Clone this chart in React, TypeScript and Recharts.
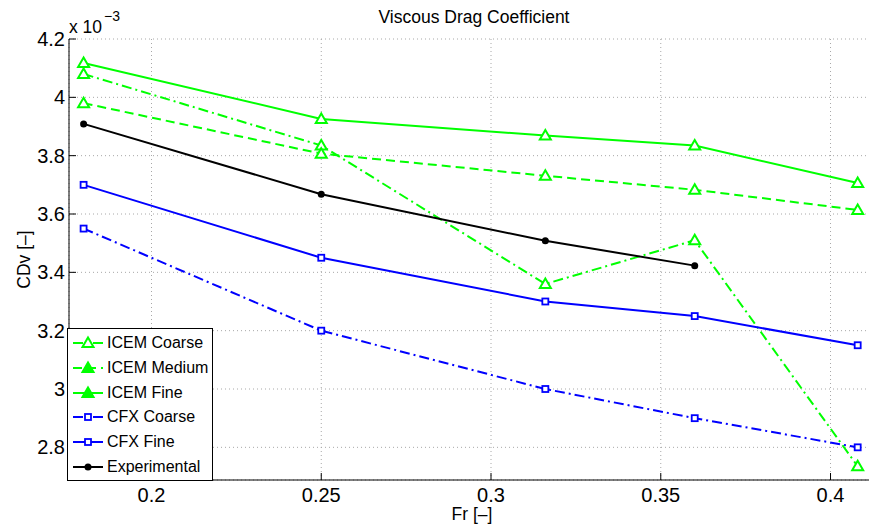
import React from "react";
import { LineChart, Line, XAxis, YAxis, CartesianGrid, Legend } from "recharts";

// Froude numbers and CDv values (x 10^-3)
const froude = [0.18, 0.25, 0.316, 0.36, 0.408];
const icemCoarse = [4.08, 3.835, 3.36, 3.51, 2.735];
const icemMedium = [3.98, 3.807, 3.731, 3.683, 3.614];
const icemFine = [4.118, 3.926, 3.869, 3.835, 3.706];
const cfxCoarse = [3.55, 3.2, 3.0, 2.9, 2.8];
const cfxFine = [3.7, 3.45, 3.3, 3.25, 3.15];
const experimental = [3.909, 3.668, 3.508, 3.423];

const xTicks = [0.2, 0.25, 0.3, 0.35, 0.4];
const yTicks = [2.8, 3, 3.2, 3.4, 3.6, 3.8, 4, 4.2];

const rows = froude.map((fr, i) => ({
  fr,
  icemCoarse: icemCoarse[i],
  icemMedium: icemMedium[i],
  icemFine: icemFine[i],
  cfxCoarse: cfxCoarse[i],
  cfxFine: cfxFine[i],
  experimental: experimental[i] ?? null,
}));

const GREEN = "#00ff00";
const BLUE = "#0000ff";
const FONT = "'Liberation Sans', Arial, sans-serif";

const series = [
  { key: "icemCoarse", name: "ICEM Coarse", color: GREEN, dash: "10 4 2 4", marker: "tri", legendFill: false },
  { key: "icemMedium", name: "ICEM Medium", color: GREEN, dash: "9 5", marker: "tri", legendFill: true },
  { key: "icemFine", name: "ICEM Fine", color: GREEN, dash: undefined, marker: "tri", legendFill: true },
  { key: "cfxCoarse", name: "CFX Coarse", color: BLUE, dash: "10 4 2 4", marker: "square", legendFill: false },
  { key: "cfxFine", name: "CFX Fine", color: BLUE, dash: undefined, marker: "square", legendFill: false },
  { key: "experimental", name: "Experimental", color: "#000", dash: undefined, marker: "dot", legendFill: true },
];

function Marker({ kind, cx, cy, color, filled }: any) {
  if (cx == null || cy == null || Number.isNaN(cy)) return null;
  if (kind === "tri") {
    return (
      <polygon
        points={`${cx},${cy - 5.5} ${cx - 5.5},${cy + 4} ${cx + 5.5},${cy + 4}`}
        fill={filled ? color : "#fff"}
        stroke={color}
        strokeWidth={2}
      />
    );
  }
  if (kind === "square") {
    return <rect x={cx - 3} y={cy - 3} width={6} height={6} fill="#fff" stroke={color} strokeWidth={1.8} />;
  }
  return <circle cx={cx} cy={cy} r={3.5} fill={color} />;
}

const YTick = (p: any) => (
  <g>
    <line x1={p.x} x2={p.x + 7} y1={p.y} y2={p.y} stroke="#000" />
    <text x={p.x - 4} y={p.y + 7} textAnchor="end" fontSize={20} fontFamily={FONT} fill="#000">
      {p.payload.value}
    </text>
  </g>
);

const XTick = (p: any) => (
  <g>
    <line x1={p.x} x2={p.x} y1={p.y - 7} y2={p.y} stroke="#000" />
    <text x={p.x} y={p.y + 22} textAnchor="middle" fontSize={20} fontFamily={FONT} fill="#000">
      {p.payload.value}
    </text>
  </g>
);

const LegendBox = () => (
  <div
    style={{
      border: "1px solid #000",
      background: "#fff",
      width: 146,
      height: 153,
      boxSizing: "border-box",
      paddingTop: 2,
      fontFamily: FONT,
      fontSize: 16,
      color: "#000",
    }}
  >
    {series.map((s) => (
      <div key={s.key} style={{ display: "flex", alignItems: "center", height: 24.7 }}>
        <svg width={38} height={20} style={{ display: "block" }}>
          <line x1={5} x2={35} y1={10} y2={10} stroke={s.color} strokeWidth={2} strokeDasharray={s.dash} />
          <Marker kind={s.marker} cx={20} cy={10} color={s.color} filled={s.legendFill} />
        </svg>
        <span style={{ marginLeft: 1, whiteSpace: "nowrap" }}>{s.name}</span>
      </div>
    ))}
  </div>
);

export default function App() {
  return (
    <div style={{ position: "fixed", left: 0, top: 0, width: 869, height: 531, overflow: "hidden", background: "#fff" }}>
      <LineChart width={876} height={531} data={rows} margin={{ top: 39, right: 1, bottom: 0, left: 0 }}>
        <CartesianGrid stroke="#a8a8a8" strokeDasharray="1 3" />
        <XAxis
          dataKey="fr"
          type="number"
          domain={[0.1757, 0.4131]}
          ticks={xTicks}
          interval={0}
          allowDataOverflow
          height={51}
          tickSize={0}
          tickMargin={0}
          tick={XTick}
          axisLine={{ stroke: "#000" }}
          label={{
            value: "Fr [–]",
            content: (p: any) => (
              <text
                x={p.viewBox.x + p.viewBox.width / 2}
                y={p.viewBox.y + 40}
                textAnchor="middle"
                fontSize={17.5}
                fontFamily={FONT}
                fill="#000"
              >
                Fr [–]
              </text>
            ),
          }}
        />
        <YAxis
          type="number"
          domain={[2.688, 4.2]}
          ticks={yTicks}
          interval={0}
          allowDataOverflow
          width={69}
          tickSize={0}
          tickMargin={0}
          tick={YTick}
          axisLine={{ stroke: "#000" }}
          label={{
            value: "CDv [–]",
            content: (p: any) => {
              const cy = p.viewBox.y + p.viewBox.height / 2;
              return (
                <text
                  x={24}
                  y={cy}
                  transform={`rotate(-90 24 ${cy})`}
                  textAnchor="middle"
                  dominantBaseline="central"
                  fontSize={17.5}
                  fontFamily={FONT}
                  fill="#000"
                >
                  CDv [–]
                </text>
              );
            },
          }}
        />
        <Legend
          layout="vertical"
          align="center"
          verticalAlign="middle"
          content={LegendBox}
          wrapperStyle={{ left: 67, top: 328, bottom: "auto", width: 146, height: 153 }}
        />
        {series.map((s) => (
          <Line
            key={s.key}
            dataKey={s.key}
            name={s.name}
            type="linear"
            stroke={s.color}
            strokeWidth={2}
            strokeDasharray={s.dash}
            isAnimationActive={false}
            dot={(p: any) => (
              <Marker key={`${s.key}-${p.index}`} kind={s.marker} cx={p.cx} cy={p.cy} color={s.color} filled={s.marker === "dot"} />
            )}
            activeDot={false}
          />
        ))}
      </LineChart>
      <svg width={869} height={531} style={{ position: "absolute", left: 0, top: 0, pointerEvents: "none" }}>
        <text x={474} y={23} textAnchor="middle" fontSize={17.5} fontFamily={FONT} fill="#000">
          Viscous Drag Coefficient
        </text>
        <text x={69} y={33} fontSize={17.5} fontFamily={FONT} fill="#000">
          x 10
          <tspan dx={2} dy={-12} fontSize={14}>
            −3
          </tspan>
        </text>
      </svg>
    </div>
  );
}
